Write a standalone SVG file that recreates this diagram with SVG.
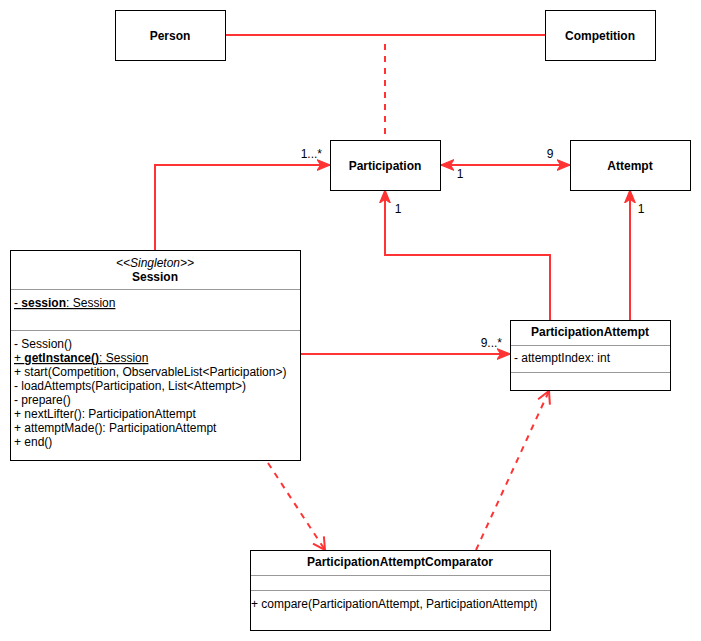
<svg xmlns="http://www.w3.org/2000/svg" width="701" height="641" viewBox="0 0 701 641">
<style>
text{font-family:"Liberation Sans",Arial,sans-serif;font-size:12px;fill:#000}
.b{font-weight:bold}
.c{text-anchor:middle}
.box{fill:#fff;stroke:#000;stroke-width:1}
.div{stroke:#999;stroke-width:1}
.e{fill:none;stroke:#ff3333;stroke-width:2}
.d{stroke-dasharray:6,6}
</style>
<defs>
<marker id="cl" markerUnits="userSpaceOnUse" markerWidth="14" markerHeight="12" viewBox="0 0 12 10" refX="11" refY="5" orient="auto-start-reverse">
<path d="M0,0.5 L11,5 L0,9.5 L3,5 z" fill="#ff3333" stroke="#ff3333" stroke-width="1"/>
</marker>
<marker id="op" markerUnits="userSpaceOnUse" markerWidth="16" markerHeight="16" viewBox="0 0 16 16" refX="14" refY="8" orient="auto">
<path d="M2,1.5 L14,8 L2,14.5" fill="none" stroke="#ff3333" stroke-width="2"/>
</marker>
</defs>
<g id="connectors">
<path class="e" d="M225,35 H545"/>
<path class="e d" d="M385,44 V140"/>
<path class="e" d="M155,250 V165 H330" marker-end="url(#cl)"/>
<path class="e" d="M441,165 H570" marker-start="url(#cl)" marker-end="url(#cl)"/>
<path class="e" d="M550,320 V255 H385 V190" marker-end="url(#cl)"/>
<path class="e" d="M630,320 V190" marker-end="url(#cl)"/>
<path class="e" d="M300,354 H510" marker-end="url(#cl)"/>
<path class="e d" d="M268,463 L325,550" marker-end="url(#op)"/>
<path class="e d" d="M476,550 L549,391" marker-end="url(#op)"/>
<text x="322" y="158" text-anchor="end">1...*</text>
<text x="550" y="158" class="c">9</text>
<text x="460" y="178" class="c">1</text>
<text x="398" y="213" class="c">1</text>
<text x="641" y="213" class="c">1</text>
<text x="502" y="347" text-anchor="end">9...*</text>
</g>
<g id="person">
<rect class="box" x="115.5" y="10.5" width="110" height="50"/>
<text x="170" y="40" class="b c">Person</text>
</g>
<g id="competition">
<rect class="box" x="545.5" y="10.5" width="110" height="50"/>
<text x="600" y="40" class="b c">Competition</text>
</g>
<g id="participation">
<rect class="box" x="330.5" y="140.5" width="110" height="50"/>
<text x="385" y="170" class="b c">Participation</text>
</g>
<g id="attempt">
<rect class="box" x="570.5" y="140.5" width="120" height="50"/>
<text x="630" y="170" class="b c">Attempt</text>
</g>
<g id="session">
<rect class="box" x="10.5" y="250.5" width="290" height="210"/>
<line class="div" x1="11" y1="289.5" x2="300" y2="289.5"/>
<line class="div" x1="11" y1="330.5" x2="300" y2="330.5"/>
<text x="155" y="267" class="c" font-style="italic">&lt;&lt;Singleton&gt;&gt;</text>
<text x="155" y="281" class="b c">Session</text>
<text x="14" y="307" text-decoration="underline">- <tspan class="b">session</tspan>: Session</text>
<text x="14" y="348">- Session()</text>
<text x="14" y="362" text-decoration="underline">+ <tspan class="b">getInstance()</tspan>: Session</text>
<text x="14" y="376">+ start(Competition, ObservableList&lt;Participation&gt;)</text>
<text x="14" y="390">- loadAttempts(Participation, List&lt;Attempt&gt;)</text>
<text x="14" y="404">- prepare()</text>
<text x="14" y="418">+ nextLifter(): ParticipationAttempt</text>
<text x="14" y="432">+ attemptMade(): ParticipationAttempt</text>
<text x="14" y="446">+ end()</text>
</g>
<g id="participationAttempt">
<rect class="box" x="510.5" y="320.5" width="160" height="70"/>
<line class="div" x1="511" y1="345.5" x2="670" y2="345.5"/>
<line class="div" x1="511" y1="372.5" x2="670" y2="372.5"/>
<text x="590" y="336" class="b c">ParticipationAttempt</text>
<text x="514" y="362">- attemptIndex: int</text>
</g>
<g id="comparator">
<rect class="box" x="250.5" y="550.5" width="300" height="80"/>
<line class="div" x1="251" y1="575.5" x2="550" y2="575.5"/>
<line class="div" x1="251" y1="590.5" x2="550" y2="590.5"/>
<text x="400" y="566" class="b c">ParticipationAttemptComparator</text>
<text x="251" y="608">+ compare(ParticipationAttempt, ParticipationAttempt)</text>
</g>
</svg>
